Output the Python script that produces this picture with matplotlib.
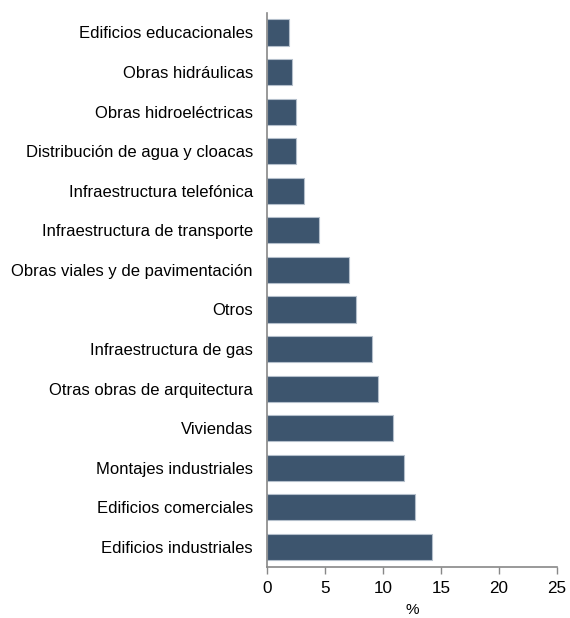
import matplotlib.pyplot as plt

plt.rcParams['font.family'] = ['Liberation Sans', 'DejaVu Sans']

# categorias de arriba hacia abajo
categorias = [
    'Edificios educacionales',
    'Obras hidráulicas',
    'Obras hidroeléctricas',
    'Distribución de agua y cloacas',
    'Infraestructura telefónica',
    'Infraestructura de transporte',
    'Obras viales y de pavimentación',
    'Otros',
    'Infraestructura de gas',
    'Otras obras de arquitectura',
    'Viviendas',
    'Montajes industriales',
    'Edificios comerciales',
    'Edificios industriales',
]
valores = [1.9, 2.2, 2.5, 2.5, 3.2, 4.5, 7.1, 7.7, 9.1, 9.6, 10.9, 11.8, 12.8, 14.2]
xticks = [0, 5, 10, 15, 20, 25]

fig = plt.figure(figsize=(5.70, 6.18), dpi=100)
ax = fig.add_axes([0.468, 0.083, 0.509, 0.8965])

pos = range(len(categorias))
ax.barh(pos, valores, height=0.66, color='#3d556e', edgecolor='#b4bfcb', linewidth=0.8)

ax.set_ylim(len(categorias) - 0.5, -0.5)
ax.set_yticks(list(pos))
ax.set_yticklabels(categorias, fontsize=12)
ax.tick_params(axis='y', length=0, pad=10)

ax.set_xlim(0, 25)
ax.set_xticks(xticks)
ax.tick_params(axis='x', length=5, width=1, color='#888888', labelsize=12.3, pad=5)
ax.set_xlabel('%', fontsize=11, labelpad=5)

for lado in ['top', 'right']:
    ax.spines[lado].set_visible(False)
for lado in ['left', 'bottom']:
    ax.spines[lado].set_color('#888888')
    ax.spines[lado].set_linewidth(1.2)

fig.savefig('out.png', dpi=100)
